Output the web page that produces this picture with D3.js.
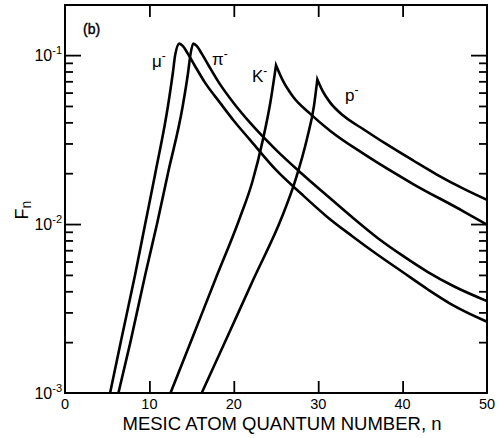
<!DOCTYPE html>
<html>
<head>
<meta charset="utf-8">
<script src="https://cdn.jsdelivr.net/npm/d3@7"></script>
<style>
body { margin: 0; background: #fff; }
text { font-family: "Liberation Sans", Arial, sans-serif; fill: #000; }
</style>
</head>
<body>
<div id="chart-area"></div>
<script>
// n (quantum number) and F_n for each particle
var muN = [5.34, 6.6, 8.3, 9.5, 10.7, 12.2, 12.8, 13.05, 13.55, 13.95, 14.55, 15.35, 16.55, 18.4, 20, 21.9, 25, 28, 31, 34, 37, 40, 43, 46, 50];
var muF = [0.001, 0.002, 0.005, 0.01, 0.02, 0.05, 0.08, 0.1, 0.117, 0.1135, 0.102, 0.0871, 0.0692, 0.052, 0.0409, 0.0316, 0.0209, 0.0151, 0.0111, 0.0085, 0.0066, 0.0052, 0.0041, 0.0033, 0.00264];

var piN = [6.33, 7.75, 9.5, 10.9, 12.2, 13.95, 14.6, 14.85, 15.2, 15.6, 16.2, 17, 18.2, 20, 22, 25, 28, 31, 34, 37, 40, 43, 46, 50];
var piF = [0.001, 0.002, 0.005, 0.01, 0.02, 0.05, 0.08, 0.1, 0.117, 0.1135, 0.102, 0.0871, 0.0692, 0.0519, 0.0394, 0.0275, 0.0200, 0.0148, 0.0110, 0.0083, 0.0065, 0.0052, 0.0043, 0.0035];

var kN = [12.5, 15.2, 17.8, 20.6, 22.2, 23.45, 24.3, 25, 25.8, 27, 29, 31.4, 35.4, 41.3, 47.2, 50];
var kF = [0.001, 0.00219, 0.00468, 0.0105, 0.0178, 0.0316, 0.0513, 0.087, 0.0708, 0.0569, 0.0452, 0.0357, 0.026, 0.0172, 0.0119, 0.0099];

var pN = [16.2, 19.4, 22.3, 25.7, 27.3, 28.7, 29.5, 29.9, 30.5, 31.4, 33, 35.4, 38, 41.3, 44, 47.2, 50];
var pF = [0.001, 0.00224, 0.00468, 0.011, 0.0182, 0.0324, 0.0501, 0.0718, 0.0617, 0.0525, 0.0437, 0.0363, 0.0299, 0.0237, 0.0197, 0.0162, 0.0139];

var xTickVals = [10, 20, 30, 40];
var xLabelVals = [0, 10, 20, 30, 40, 50];
var yDecades = [0.1, 0.01, 0.001];
var yDecadeExp = ["-1", "-2", "-3"];

var margin = {top: 5, right: 12, bottom: 45, left: 65};
var width = 422;
var height = 388;

var svg = d3.select("#chart-area")
    .append("svg")
    .attr("width", width + margin.left + margin.right)
    .attr("height", height + margin.top + margin.bottom);

var g = svg.append("g")
    .attr("transform", "translate(" + margin.left + ", " + margin.top + ")");

var x = d3.scaleLinear()
    .domain([0, 50])
    .range([0, width]);

var y = d3.scaleLog()
    .domain([0.001, 0.198])
    .range([height, 0]);

// minor / major ticks on the log axis
var allY = y.ticks();
var minorY = allY.filter((d) => { return yDecades.indexOf(d) < 0; });
var majorY = [0.1, 0.01];

function tickAxis(axis, vals, size) {
    return axis.tickValues(vals).tickSize(size).tickFormat("");
}

var axes = [
    [tickAxis(d3.axisLeft(y), minorY, -8), "translate(0,0)"],
    [tickAxis(d3.axisLeft(y), majorY, -16), "translate(0,0)"],
    [tickAxis(d3.axisRight(y), minorY, -8), "translate(" + width + ",0)"],
    [tickAxis(d3.axisRight(y), majorY, -16), "translate(" + width + ",0)"],
    [tickAxis(d3.axisBottom(x), xTickVals, -12), "translate(0," + height + ")"],
    [tickAxis(d3.axisTop(x), xTickVals, -12), "translate(0,0)"]
];

axes.forEach((a) => {
    var ag = g.append("g")
        .attr("transform", a[1])
        .call(a[0]);
    ag.select(".domain").remove();
    ag.selectAll("line").attr("stroke", "#000").attr("stroke-width", 1.8);
});

// frame
g.append("rect")
    .attr("x", 0)
    .attr("y", 0)
    .attr("width", width)
    .attr("height", height)
    .attr("fill", "none")
    .attr("stroke", "#000")
    .attr("stroke-width", 2);

// x tick labels
g.selectAll(".xlab")
    .data(xLabelVals)
    .enter()
    .append("text")
    .attr("class", "xlab")
    .attr("x", (d) => { return x(d); })
    .attr("y", height + 15.5)
    .attr("text-anchor", "middle")
    .attr("font-size", "14.5px")
    .text((d) => { return d; });

// y tick labels 10^k
var ylab = g.selectAll(".ylab")
    .data(yDecades)
    .enter()
    .append("text")
    .attr("class", "ylab")
    .attr("x", -3)
    .attr("y", (d) => { return y(d) + 6; })
    .attr("text-anchor", "end")
    .attr("font-size", "16px");
ylab.append("tspan").text("10");
ylab.append("tspan")
    .attr("dy", -7)
    .attr("font-size", "11px")
    .text((d, i) => { return yDecadeExp[i]; });

// axis titles
g.append("text")
    .attr("x", 217)
    .attr("y", height + 37)
    .attr("text-anchor", "middle")
    .attr("font-size", "18.5px")
    .text("MESIC ATOM QUANTUM NUMBER, n");

var ft = g.append("text")
    .attr("transform", "translate(-37,205) rotate(-90)")
    .attr("text-anchor", "middle")
    .attr("font-size", "18px");
ft.append("tspan").text("F");
ft.append("tspan").attr("dy", 3).attr("font-size", "14px").text("n");

g.append("text")
    .attr("x", 18)
    .attr("y", 29)
    .attr("font-size", "14px")
    .attr("stroke", "#000")
    .attr("stroke-width", 0.4)
    .text("(b)");

// curves
var series = [
    {name: "\u03bc", n: muN, f: muF, sharp: false, lx: 87, ly: 62},
    {name: "\u03c0", n: piN, f: piF, sharp: false, lx: 147, ly: 60},
    {name: "K", n: kN, f: kF, sharp: true, lx: 187, ly: 77},
    {name: "p", n: pN, f: pF, sharp: true, lx: 280, ly: 96}
];

var line = d3.line()
    .x((d) => { return x(d[0]); })
    .y((d) => { return y(d[1]); })
    .curve(d3.curveMonotoneX);

series.forEach((s) => {
    var pts = s.n.map((v, i) => { return [v, s.f[i]]; });
    var path;
    if (s.sharp) {
        var k = d3.maxIndex(s.f);
        path = line(pts.slice(0, k + 1)) + line(pts.slice(k)).replace(/^M/, "L");
    } else {
        path = line(pts);
    }
    g.append("path")
        .attr("d", path)
        .attr("fill", "none")
        .attr("stroke", "#000")
        .attr("stroke-width", 2.6)
        .attr("stroke-linejoin", "miter");

    var t = g.append("text")
        .attr("x", s.lx)
        .attr("y", s.ly)
        .attr("font-size", "17px");
    t.append("tspan").text(s.name);
    t.append("tspan").attr("dy", -7).attr("font-size", "12px").text("-");
});
</script>
</body>
</html>
